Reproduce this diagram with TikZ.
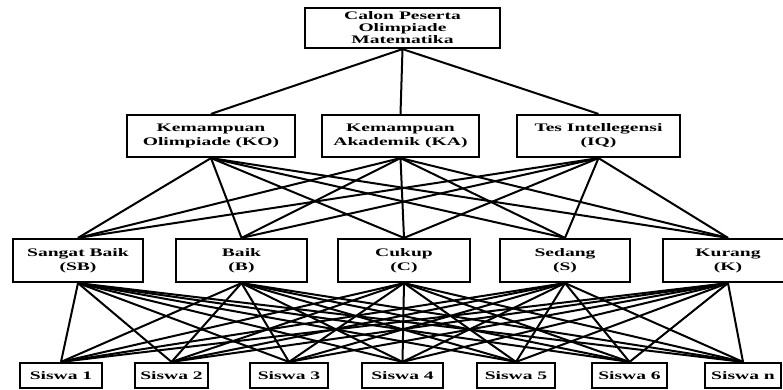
\documentclass[tikz,border=0pt]{standalone}
\usepackage{fontspec}
\newfontfamily\lbl[FakeStretch=1.7]{Liberation Serif}
\begin{document}
\begin{tikzpicture}[x=1pt,y=-1pt,
  box/.style={draw, line width=2.2pt, rectangle, inner sep=0pt, align=center,
    font=\lbl\bfseries\fontsize{11.5}{12}\selectfont},
  box2/.style={box, font=\lbl\bfseries\fontsize{11.5}{14}\selectfont},
  conn/.style={line width=2pt}]
\useasboundingbox (0,0) rectangle (783,390);
% level 1
\node[box, minimum width=195pt, minimum height=40pt] (top) at (402.5,28) {Calon Peserta\\Olimpiade\\Matematika};
% level 2
\node[box2, minimum width=168pt, minimum height=42pt] (ko) at (211,136) {Kemampuan\\Olimpiade (KO)};
\node[box2, minimum width=157pt, minimum height=42pt] (ka) at (400.5,136) {Kemampuan\\Akademik (KA)};
\node[box2, minimum width=163pt, minimum height=42pt] (iq) at (598.5,136) {Tes Intellegensi\\(IQ)};
% level 3
\node[box2, minimum width=130pt, minimum height=43pt] (sb) at (78,260.5) {Sangat Baik\\(SB)};
\node[box2, minimum width=131pt, minimum height=43pt] (b) at (241.5,260.5) {Baik\\(B)};
\node[box2, minimum width=132pt, minimum height=43pt] (c) at (404,260.5) {Cukup\\(C)};
\node[box2, minimum width=130pt, minimum height=43pt] (s) at (565,260.5) {Sedang\\(S)};
\node[box2, minimum width=130pt, minimum height=43pt] (k) at (728,260.5) {Kurang\\(K)};
% level 4
\node[box, minimum width=82pt, minimum height=25pt] (s1) at (61,375.5) {Siswa 1};
\node[box, minimum width=73pt, minimum height=25pt] (s2) at (171.5,375.5) {Siswa 2};
\node[box, minimum width=78pt, minimum height=25pt] (s3) at (289,375.5) {Siswa 3};
\node[box, minimum width=81pt, minimum height=25pt] (s4) at (402.5,375.5) {Siswa 4};
\node[box, minimum width=78pt, minimum height=25pt] (s5) at (516,375.5) {Siswa 5};
\node[box, minimum width=75pt, minimum height=25pt] (s6) at (629.5,375.5) {Siswa 6};
\node[box, minimum width=76pt, minimum height=25pt] (sn) at (743,375.5) {Siswa n};
% connectors
\foreach \m in {ko,ka,iq} \draw[conn] (top.south) -- (\m.north);
\foreach \m in {ko,ka,iq}
  \foreach \n in {sb,b,c,s,k} \draw[conn] (\m.south) -- (\n.north);
\foreach \n in {sb,b,c,s,k}
  \foreach \p in {s1,s2,s3,s4,s5,s6,sn} \draw[conn] (\n.south) -- (\p.north);
\end{tikzpicture}
\end{document}
